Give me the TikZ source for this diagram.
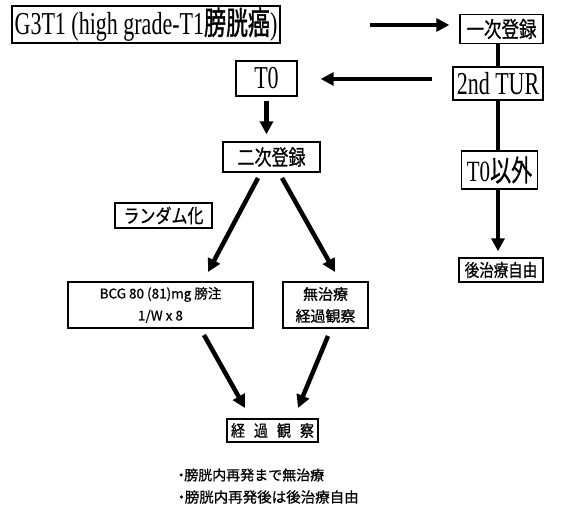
\documentclass[tikz,border=0pt]{standalone}
\usepackage{fontspec}
\setmainfont{Liberation Serif}
\newfontfamily\cjk[FakeBold=0.8]{Noto Sans CJK JP}
\newfontfamily\cjkb[FakeBold=1.6]{Noto Sans CJK JP}
\usetikzlibrary{arrows.meta}
\newcommand\ystretch[2]{\scalebox{1}[#1]{#2}}
\begin{document}
\begin{tikzpicture}[x=1pt,y=-1pt,
 box/.style={draw,line width=1.4pt,inner sep=0pt,anchor=center},
 thickarrow/.style={line width=4.5pt,-{Triangle[length=13pt,width=13pt]}},
 thickline/.style={line width=4.5pt}]
\useasboundingbox[fill=white] (0,0) rectangle (561,510);

% nodes
\node[box,minimum width=268pt,minimum height=37pt] (title) at (146,24.5)
  {\ystretch{1.45}{\fontsize{22}{22}\selectfont G3T1 (high grade-T1{\cjkb 膀胱癌})}};
\node[box,minimum width=83pt,minimum height=29pt] (ichiji) at (501.5,29)
  {\ystretch{1.25}{\cjk\fontsize{17.5}{17.5}\selectfont 一次登録}};
\node[box,minimum width=90pt,minimum height=33pt] (tur) at (498,83.5)
  {\ystretch{1.45}{\fontsize{22}{22}\selectfont 2nd TUR}};
\node[box,minimum width=61pt,minimum height=35pt] (t0) at (266.5,78.5)
  {\ystretch{1.45}{\fontsize{22}{22}\selectfont T0}};
\node[box,minimum width=97pt,minimum height=30pt] (niji) at (271.5,157)
  {\ystretch{1.25}{\cjk\fontsize{17}{17}\selectfont 二次登録}};
\node[box,minimum width=76pt,minimum height=38pt] (igai) at (499.5,170)
  {\ystretch{1.4}{\fontsize{21}{21}\selectfont T0{\cjk 以外}}};
\node[box,minimum width=84pt,minimum height=24pt] (kou) at (501,270)
  {\ystretch{1.2}{\cjk\fontsize{14.5}{14.5}\selectfont 後治療自由}};
\node[box,minimum width=97pt,minimum height=25pt] (rand) at (163.5,215.5)
  {\ystretch{1.2}{\cjk\fontsize{16}{16}\selectfont ランダム化}};
\node[box,minimum width=185pt,minimum height=46pt,align=center,
  font=\cjk\fontsize{13.5}{22}\selectfont] (bcg) at (160.5,305)
  {BCG 80 (81)mg 膀注\\1/W x 8};
\node[box,minimum width=85pt,minimum height=46pt,align=center,
  font=\cjk\fontsize{15}{22}\selectfont] (mu) at (325.5,305)
  {無治療\\経過観察};
\node[box,minimum width=91pt,minimum height=23pt] (keika) at (272.5,430.5)
  {\ystretch{1.15}{\cjk\fontsize{14}{14}\selectfont 経\hspace{9pt}過\hspace{9pt}観\hspace{9pt}察}};
\node[anchor=west,inner sep=0pt,font=\cjk\fontsize{14}{14}\selectfont] (b1) at (174,475)
  {・\hspace{-4pt}膀胱内再発まで無治療};
\node[anchor=west,inner sep=0pt,font=\cjk\fontsize{14.5}{14.5}\selectfont] (b2) at (174,497)
  {・\hspace{-4pt}膀胱内再発後は後治療自由};

% connectors
\coordinate (s1) at (370,25);
\draw[thickarrow,shorten >=10pt] (s1) -- (s1 -| ichiji.west);
\draw[thickline] (tur.north |- ichiji.south) -- (tur.north);
\coordinate (s2) at (432,79);
\draw[thickarrow,shorten >=23pt] (s2) -- (s2 -| t0.east);
\draw[thickarrow,shorten <=4pt,shorten >=7pt] (t0.south) -- (t0.south |- niji.north);
\draw[thickline] (tur.south) -- (tur.south |- igai.north);
\draw[thickarrow,shorten >=6pt] (tur.south |- igai.south) -- (tur.south |- kou.north);

\coordinate (d1s) at (258,178);
\coordinate (d1e) at (208,272);
\coordinate (d2s) at (282,178);
\coordinate (d2e) at (335,272);
\coordinate (d3s) at (204,335);
\coordinate (d3e) at (245,408);
\coordinate (d4s) at (328,336);
\coordinate (d4e) at (298,408);
\draw[thickarrow] (d1s) -- (d1e);
\draw[thickarrow] (d2s) -- (d2e);
\draw[thickarrow] (d3s) -- (d3e);
\draw[thickarrow] (d4s) -- (d4e);
\end{tikzpicture}
\end{document}
